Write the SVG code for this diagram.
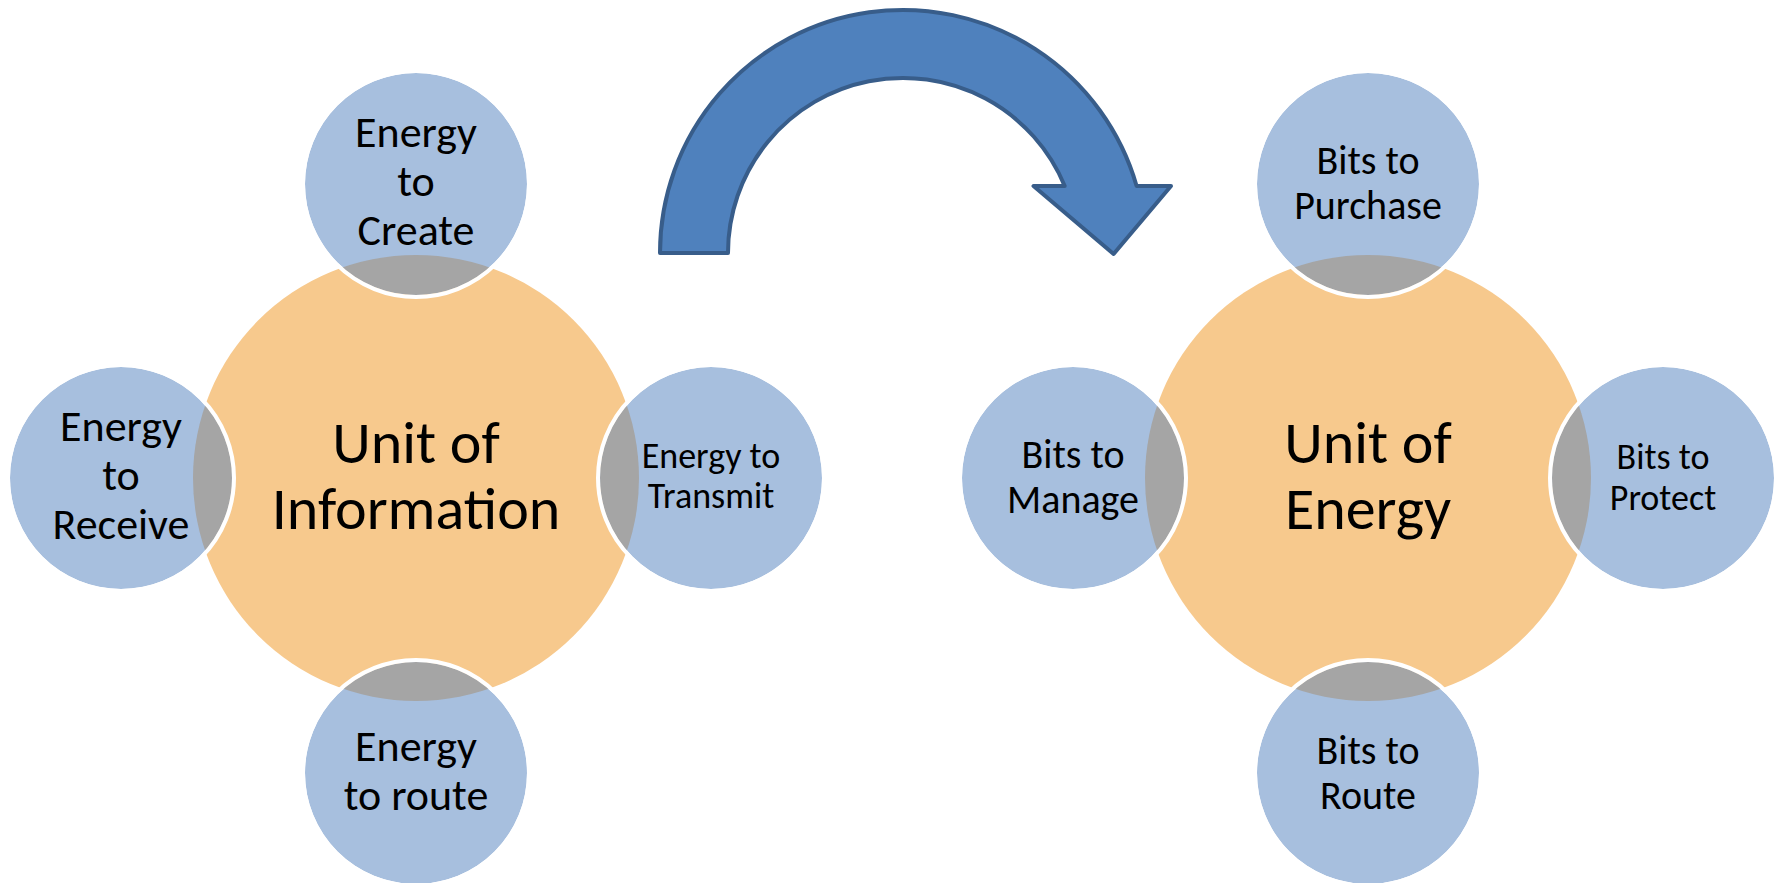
<svg xmlns="http://www.w3.org/2000/svg" width="1781" height="883" viewBox="0 0 1781 883">
  <style>
    text { font-family: Carlito, "Liberation Sans", sans-serif; fill: #000; text-anchor: middle; }
    .hub { fill: #F7C98D; }
    .sat { fill: #A7BFDE; }
    .lens { fill: #A5A5A5; }
    .rim { fill: none; stroke: #FFFFFF; stroke-width: 4; }
    .t60 { font-size: 60px; }
    .t44 { font-size: 44px; }
    .t40 { font-size: 40px; }
    .t36 { font-size: 36px; }
    .arrow { fill: #4F81BD; stroke: #385D8A; stroke-width: 4; stroke-linejoin: round; }
  </style>
  <defs>
    <clipPath id="hubInfoClip"><circle cx="416" cy="478" r="223"/></clipPath>
    <clipPath id="hubEnergyClip"><circle cx="1368" cy="478" r="223"/></clipPath>
  </defs>

  <rect width="1781" height="883" fill="#FFFFFF"/>

  <!-- left cluster -->
  <g id="unit-of-information">
    <circle class="hub" cx="416" cy="478" r="223"/>
    <text class="t60" x="416" y="463">Unit of</text>
    <text class="t60" x="416" y="529">Information</text>
  </g>

  <g id="energy-to-create">
    <circle class="sat" cx="416" cy="184" r="111"/>
    <circle class="lens" cx="416" cy="184" r="111" clip-path="url(#hubInfoClip)"/>
    <circle class="rim" cx="416" cy="184" r="113"/>
    <text class="t44" x="416" y="147">Energy</text>
    <text class="t44" x="416" y="196">to</text>
    <text class="t44" x="416" y="245">Create</text>
  </g>

  <g id="energy-to-receive">
    <circle class="sat" cx="121" cy="478" r="111"/>
    <circle class="lens" cx="121" cy="478" r="111" clip-path="url(#hubInfoClip)"/>
    <circle class="rim" cx="121" cy="478" r="113"/>
    <text class="t44" x="121" y="441">Energy</text>
    <text class="t44" x="121" y="490">to</text>
    <text class="t44" x="121" y="539">Receive</text>
  </g>

  <g id="energy-to-transmit">
    <circle class="sat" cx="711" cy="478" r="111"/>
    <circle class="lens" cx="711" cy="478" r="111" clip-path="url(#hubInfoClip)"/>
    <circle class="rim" cx="711" cy="478" r="113"/>
    <text class="t36" x="711" y="468">Energy to</text>
    <text class="t36" x="711" y="508">Transmit</text>
  </g>

  <g id="energy-to-route">
    <circle class="sat" cx="416" cy="773" r="111"/>
    <circle class="lens" cx="416" cy="773" r="111" clip-path="url(#hubInfoClip)"/>
    <circle class="rim" cx="416" cy="773" r="113"/>
    <text class="t44" x="416" y="761">Energy</text>
    <text class="t44" x="416" y="810">to route</text>
  </g>

  <!-- right cluster -->
  <g id="unit-of-energy">
    <circle class="hub" cx="1368" cy="478" r="223"/>
    <text class="t60" x="1368" y="463">Unit of</text>
    <text class="t60" x="1368" y="529">Energy</text>
  </g>

  <g id="bits-to-purchase">
    <circle class="sat" cx="1368" cy="184" r="111"/>
    <circle class="lens" cx="1368" cy="184" r="111" clip-path="url(#hubEnergyClip)"/>
    <circle class="rim" cx="1368" cy="184" r="113"/>
    <text class="t40" x="1368" y="174">Bits to</text>
    <text class="t40" x="1368" y="219">Purchase</text>
  </g>

  <g id="bits-to-manage">
    <circle class="sat" cx="1073" cy="478" r="111"/>
    <circle class="lens" cx="1073" cy="478" r="111" clip-path="url(#hubEnergyClip)"/>
    <circle class="rim" cx="1073" cy="478" r="113"/>
    <text class="t40" x="1073" y="468">Bits to</text>
    <text class="t40" x="1073" y="513">Manage</text>
  </g>

  <g id="bits-to-protect">
    <circle class="sat" cx="1663" cy="478" r="111"/>
    <circle class="lens" cx="1663" cy="478" r="111" clip-path="url(#hubEnergyClip)"/>
    <circle class="rim" cx="1663" cy="478" r="113"/>
    <text class="t36" x="1663" y="469">Bits to</text>
    <text class="t36" x="1663" y="510">Protect</text>
  </g>

  <g id="bits-to-route">
    <circle class="sat" cx="1368" cy="773" r="111"/>
    <circle class="lens" cx="1368" cy="773" r="111" clip-path="url(#hubEnergyClip)"/>
    <circle class="rim" cx="1368" cy="773" r="113"/>
    <text class="t40" x="1368" y="764">Bits to</text>
    <text class="t40" x="1368" y="809">Route</text>
  </g>

  <!-- curved transition arrow between the clusters -->
  <g id="connectors">
    <path class="arrow" d="M 660,253 A 243 243 0 0 1 1136.6,186 L 1171,186 L 1113.6,254 L 1033.5,186 L 1064.7,186 A 175 175 0 0 0 728,253 Z"/>
  </g>
</svg>
